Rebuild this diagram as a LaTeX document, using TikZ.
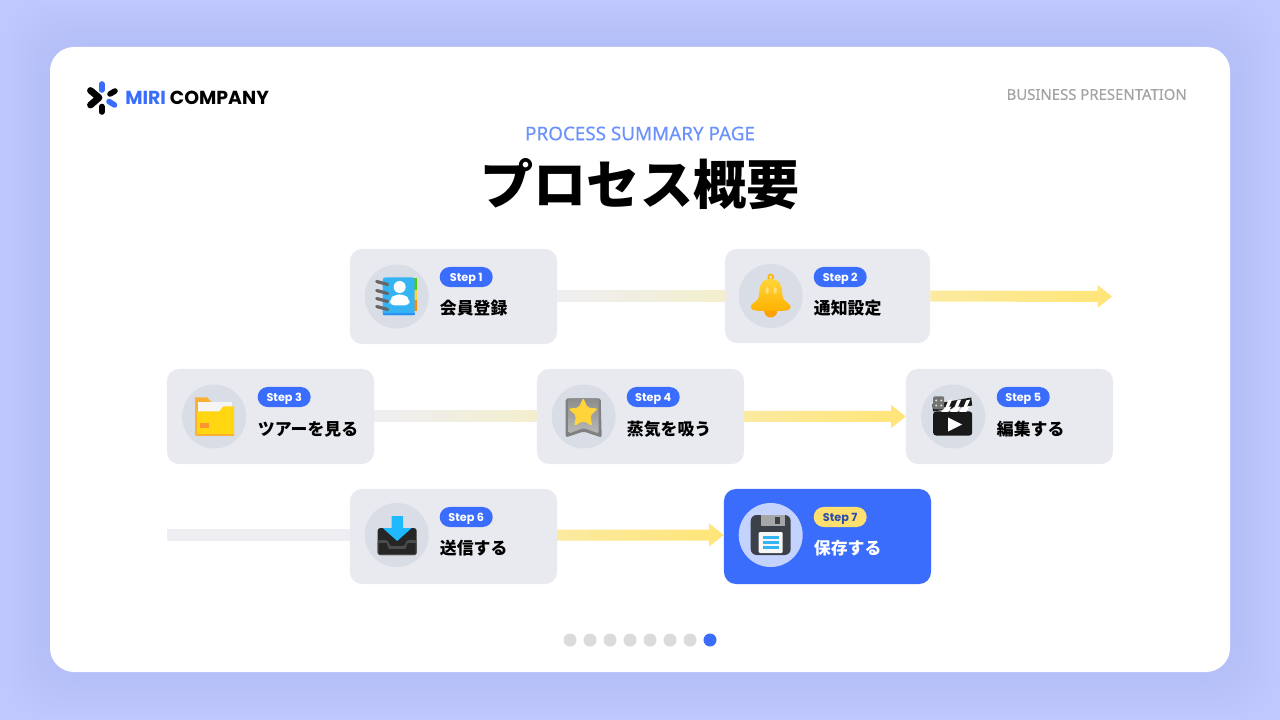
\documentclass[tikz,border=0pt]{standalone}
\usepackage{fontspec}
\setmainfont{Poppins}
\newfontfamily\cjk{Noto Sans CJK JP}
\newfontfamily\cjkblack{Noto Sans CJK JP Black}
\newfontfamily\noto[FakeBold=0.25]{Noto Sans}
\usetikzlibrary{calc,shapes.geometric}

\definecolor{pagebg}{HTML}{BFC9FF}
\definecolor{pageshadow}{HTML}{B3BEF8}
\definecolor{cardgrey}{HTML}{E9EAF0}
\definecolor{icongrey}{HTML}{D9DDE5}
\definecolor{miriblue}{HTML}{3A6DFB}
\definecolor{barpale}{HTML}{EEEEF2}
\definecolor{barcream}{HTML}{F3EFCD}
\definecolor{barlight}{HTML}{FBEAA0}
\definecolor{baryellow}{HTML}{FFE577}
\definecolor{stepyellow}{HTML}{FFE06E}
\definecolor{skyblue}{HTML}{35B4F4}
\definecolor{arrowblue}{HTML}{1FB9FF}
\definecolor{goldhigh}{HTML}{FFD43A}
\definecolor{goldlow}{HTML}{FFB300}
\definecolor{folderback}{HTML}{FBB034}
\definecolor{folderfront}{HTML}{FFD60F}
\definecolor{diskgrey}{HTML}{3B4049}

\tikzset{
  stepcard/.style={fill=cardgrey, rounded corners=0.3cm, minimum width=5.175cm, minimum height=2.375cm, inner sep=0},
  iconbg/.style={circle, fill=icongrey, minimum size=1.6cm, inner sep=0},
  stepbadge/.style={fill=miriblue, text=white, rounded corners=0.25cm, minimum width=1.325cm, minimum height=0.5cm, inner sep=0, text depth=0pt, font=\fontsize{8}{8}\selectfont\bfseries},
  steptext/.style={anchor=west, inner sep=0, font=\fontsize{12}{12}\cjk\bfseries},
  pagedot/.style={circle, fill=#1, minimum size=0.325cm, inner sep=0},
  logopill/.style={line width=0.14cm, line cap=round, #1},
}

% bar with a head, behind the cards
\newcommand{\flowarrow}[4]{
  \shade[left color=#3, right color=#4] ($(#1)+(0,-5.5)$) -- ($(#2)+(-14.5,-5.5)$) -- ($(#2)+(-14.5,-11.5)$) -- (#2) -- ($(#2)+(-14.5,11.5)$) -- ($(#2)+(-14.5,5.5)$) -- ($(#1)+(0,5.5)$) -- cycle;
}
\newcommand{\flowbar}[4]{
  \shade[left color=#3, right color=#4] ($(#1)+(0,-5.5)$) rectangle ($(#2)+(0,5.5)$);
}

\begin{document}
\begin{tikzpicture}[x=0.025cm, y=-0.025cm]
    \useasboundingbox (0,0) rectangle (1280,720);
    \fill[pagebg] (0,0) rectangle (1280,720);
    \foreach \r in {44,40,...,4} {
      \fill[pageshadow, opacity=0.07, rounded corners=1.1cm] (50-\r,47-\r) rectangle (1230+\r,672+\r);
    }
    \fill[white, rounded corners=0.6cm] (50,47) rectangle (1230,672);

    % logo
    \draw[logopill={draw=miriblue}] (101.7,84) -- (101.7,90);
    \draw[logopill={draw=black}] (115,91) -- (110,94);
    \draw[logopill={draw=miriblue}] (109,101.5) -- (114.5,105);
    \draw[logopill={draw=black}] (101.7,106.5) -- (101.7,112);
    \draw[line width=0.17cm, line cap=round, line join=round] (90.5,90.5) -- (99,97.7) -- (90.5,105);
    \node[anchor=west, inner sep=0, font=\fontsize{13.4}{13.4}\selectfont\bfseries] (logo) at (125,97.5) {\textcolor{miriblue}{MIRI} COMPANY};

    % header
    \node[anchor=east, inner sep=0, text=black!36, font=\fontsize{10.6}{10.6}\noto] (kicker) at (1187,94.5) {BUSINESS PRESENTATION};
    \node[inner sep=0, text=miriblue!75!white, font=\fontsize{13.4}{13.4}\noto] (subtitle) at (640,133.5) {PROCESS SUMMARY PAGE};
    \node[inner sep=0, font=\fontsize{37.8}{37.8}\cjkblack] (title) at (640,184) {プロセス概要};

    % step cards
    \node[stepcard] (card1) at (453.5,296.5) {};
    \node[iconbg] (icon1) at ($(card1.west)+(47,0)$) {};
    \node[stepbadge] (badge1) at ($(card1.west)+(116.5,-19.5)$) {Step 1};
    \node[steptext] (text1) at ($(card1.west)+(90,12)$) {会員登録};

    \node[stepcard, minimum width=5.125cm, minimum height=2.35cm] (card2) at (827.5,296) {};
    \node[iconbg] (icon2) at ($(card2.west)+(46,0)$) {};
    \node[stepbadge] (badge2) at ($(card2.west)+(115.5,-19)$) {Step 2};
    \node[steptext] (text2) at ($(card2.west)+(89,12)$) {通知設定};

    \node[stepcard] (card3) at (270.5,416.5) {};
    \node[iconbg] (icon3) at ($(card3.west)+(47.5,0)$) {};
    \node[stepbadge] (badge3) at ($(card3.west)+(117.5,-19.5)$) {Step 3};
    \node[steptext] (text3) at ($(card3.west)+(91,12.5)$) {ツアーを見る};

    \node[stepcard] (card4) at (640.5,416.5) {};
    \node[iconbg] (icon4) at ($(card4.west)+(47,0)$) {};
    \node[stepbadge] (badge4) at ($(card4.west)+(116.5,-19.5)$) {Step 4};
    \node[steptext] (text4) at ($(card4.west)+(90,12.5)$) {蒸気を吸う};

    \node[stepcard] (card5) at (1009.5,416.5) {};
    \node[iconbg] (icon5) at ($(card5.west)+(47.5,0)$) {};
    \node[stepbadge] (badge5) at ($(card5.west)+(117.5,-19.5)$) {Step 5};
    \node[steptext] (text5) at ($(card5.west)+(91,12.5)$) {編集する};

    \node[stepcard] (card6) at (453.5,536.5) {};
    \node[iconbg] (icon6) at ($(card6.west)+(47,-1.5)$) {};
    \node[stepbadge] (badge6) at ($(card6.west)+(116.5,-19.5)$) {Step 6};
    \node[steptext] (text6) at ($(card6.west)+(90,12)$) {送信する};

    \node[stepcard, fill=miriblue] (card7) at (827.5,536.5) {};
    \node[iconbg, fill=miriblue!30!white] (icon7) at ($(card7.west)+(47,-1.5)$) {};
    \node[stepbadge, fill=stepyellow, text=miriblue!70!black] (badge7) at ($(card7.west)+(116.5,-19.5)$) {Step 7};
    \node[steptext, text=white] (text7) at ($(card7.west)+(90,12)$) {保存する};

    % connectors
    \coordinate (end2) at (1112,296.5);
    \coordinate (start6) at (167,535);
    \coordinate (in6) at ($(card6.west)+(0,-1.5)$);
    \coordinate (out6) at ($(card6.east)+(0,-1.5)$);
    \coordinate (in7) at ($(card7.west)+(0,-1.5)$);
    \flowbar{card1.east}{card2.west}{barpale}{barcream}
    \flowarrow{card2.east}{end2}{barlight}{baryellow}
    \flowbar{card3.east}{card4.west}{barpale}{barcream}
    \flowarrow{card4.east}{card5.west}{barlight}{baryellow}
    \flowbar{start6}{in6}{barpale}{barpale}
    \flowarrow{out6}{in7}{barlight}{baryellow}

    % address book
    \begin{scope}[shift={(icon1.center)}]
      \fill[green!60!yellow!80!black] (15,-18) rectangle (20,-6);
      \fill[goldhigh] (15,-6) rectangle (20,4);
      \fill[orange!90!yellow] (15,4) rectangle (20,15);
      \fill[skyblue, rounded corners=0.06cm] (-14,-19) rectangle (18,19);
      \fill[skyblue!80!blue] (-14,17) rectangle (18,19);
      \fill[white] (3,-9.5) circle (6);
      \fill[white, rounded corners=0.12cm] (-7,9) -- (-7,3) -- (-2,-2) -- (8,-2) -- (13,3) -- (13,9) -- cycle;
      \foreach \y in {-13,-4,4,12} {
        \draw[black!60, line width=0.08cm, line cap=round] (-20,\y-2) -- (-9,\y+1);
      }
    \end{scope}

    % bell
    \begin{scope}[shift={(icon2.center)}]
      \draw[goldlow, line width=0.04cm] (0,-19) circle (2.5);
      \fill[goldlow!90!red] (0,15) circle (6.5);
      \shade[top color=goldhigh, bottom color=goldlow] (0,-17) .. controls (-11,-17) and (-11,-8) .. (-12,1) .. controls (-13,6) and (-20,7) .. (-20,11) .. controls (-20,15) and (-13,15) .. (0,15) .. controls (13,15) and (20,15) .. (20,11) .. controls (20,7) and (13,6) .. (12,1) .. controls (11,-8) and (11,-17) .. (0,-17) -- cycle;
      \fill[orange, opacity=0.4] (-19,12) .. controls (-12,16) and (12,16) .. (19,12) .. controls (16,16) and (-16,16) .. (-19,12) -- cycle;
      \fill[white, opacity=0.4, rounded corners=0.04cm] (-5,-9) rectangle (-2,-2);
      \fill[white, opacity=0.4, rounded corners=0.04cm] (3,-9) rectangle (6,-2);
    \end{scope}

    % folder
    \begin{scope}[shift={(icon3.center)}]
      \fill[folderback] (-19,-19) -- (-7,-19) -- (-3,-15) -- (-3,19) -- (-19,19) -- cycle;
      \fill[black!4] (-16,-14.5) rectangle (18,5);
      \fill[folderfront] (-17,-5) -- (5,-5) -- (9,-10) -- (20,-10) -- (20,19) -- (-17,19) -- cycle;
      \fill[folderback] (-17,17) rectangle (20,19);
      \fill[folderback!85!red] (-14,7) rectangle (-5,12);
    \end{scope}

    % bookmark
    \begin{scope}[shift={(icon4.center)}]
      \fill[black!50, rounded corners=0.04cm] (-18,-18) -- (17,-18) -- (18,21) -- (0,15) -- (-18,21) -- cycle;
      \shade[top color=black!45, bottom color=black!28, rounded corners=0.04cm] (-15,-18) -- (15,-18) -- (15,17) -- (0,11.5) -- (-15,17) -- cycle;
      \node[star, star points=5, star point ratio=2.1, fill=goldhigh, minimum size=0.78cm, inner sep=0, rounded corners=0.05cm] (star4) at (-0.5,-3) {};
    \end{scope}

    % clapperboard
    \begin{scope}[shift={(icon5.center)}]
      \fill[black!90, rounded corners=0.07cm] (-20,-5) rectangle (19,19);
      \fill[white] (-5,1) -- (9,8) -- (-5,15) -- cycle;
      \fill[black!90] (-21,-12) -- (18,-19) -- (19,-11) -- (-20,-5) -- cycle;
      \foreach \x in {-8,1,10} {
        \fill[white] (\x,-8.5) -- (\x+3,-16) -- (\x+7,-17) -- (\x+4,-10) -- cycle;
      }
      \foreach \x in {-6,3,12} {
        \fill[white] (\x-3,-9) -- (\x+4,-10) -- (\x+1,-4.5) -- (\x-6,-4.5) -- cycle;
      }
      \fill[black!55, rounded corners=0.03cm] (-20,-20) rectangle (-9,-7);
      \foreach \x/\y in {-17/-16,-12/-16,-17/-11,-12/-11} {
        \fill[black!15] (\x,\y) circle (1.2);
      }
    \end{scope}

    % inbox
    \begin{scope}[shift={(icon6.center)}]
      \fill[black!85, rounded corners=0.07cm] (-19,-7) rectangle (20,20);
      \fill[black!70, rounded corners=0.04cm] (-19,5) -- (-9,5) -- (-7,11) -- (8,11) -- (10,5) -- (20,5) -- (20,20) -- (-19,20) -- cycle;
      \fill[black!85] (-18,8) -- (-10,8) -- (-8,14) -- (9,14) -- (11,8) -- (19,8) -- (19,19) -- (-18,19) -- cycle;
      \fill[arrowblue] (-5,-19) -- (6.5,-19) -- (6.5,-7) -- (15,-7) -- (0.5,6) -- (-14,-7) -- (-5,-7) -- cycle;
    \end{scope}

    % floppy
    \begin{scope}[shift={(icon7.center)}]
      \fill[diskgrey, rounded corners=0.15cm] (-20,-20) rectangle (20,20);
      \fill[black!35] (-10,-20) rectangle (14,-9);
      \fill[diskgrey] (4,-18) rectangle (9,-11);
      \fill[black!3, rounded corners=0.03cm] (-12,-3) rectangle (12,18);
      \fill[skyblue] (-8,1) rectangle (8,4);
      \fill[skyblue] (-8,6) rectangle (8,9);
      \fill[skyblue] (-8,11) rectangle (8,14);
    \end{scope}

    % page dots
    \foreach \i in {0,...,6} {
      \node[pagedot=black!14] (dot\i) at (570+20*\i,640) {};
    }
    \node[pagedot=miriblue] (dot7) at (710,640) {};
\end{tikzpicture}
\end{document}
